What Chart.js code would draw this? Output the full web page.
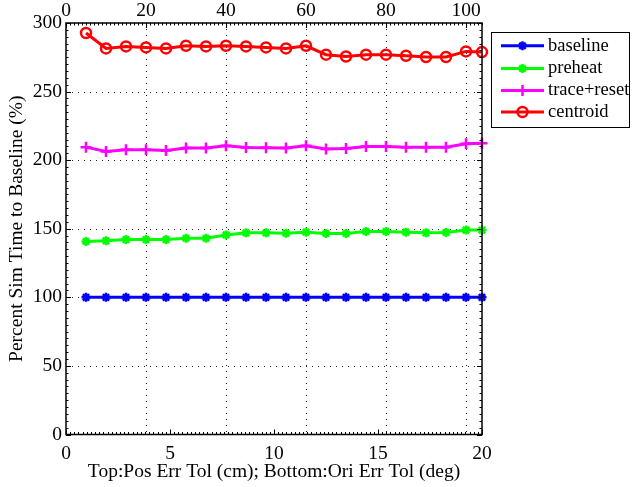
<!DOCTYPE html>
<html>
<head>
<meta charset="utf-8">
<title>Percent Sim Time to Baseline</title>
<script src="https://cdn.jsdelivr.net/npm/chart.js@4.4.1/dist/chart.umd.min.js"></script>
<style>
  html, body { margin: 0; padding: 0; background: #fff; }
</style>
</head>
<body>
<canvas id="chart" width="639" height="487"></canvas>
<script>
// x positions on the top axis (Pos Err Tol, cm)
const xPos = [5, 10, 15, 20, 25, 30, 35, 40, 45, 50, 55, 60, 65, 70, 75, 80, 85, 90, 95, 100, 104];

const baseline = [100, 100, 100, 100, 100, 100, 100, 100, 100, 100, 100, 100, 100, 100, 100, 100, 100, 100, 100, 100, 100];
const preheat = [140.7, 141.2, 142.1, 142.1, 142.1, 143.1, 143.1, 145.5, 147.0, 147.0, 146.8, 147.5, 146.5, 146.5, 148.0, 148.0, 147.5, 147.0, 147.3, 149.0, 149.0];
const traceReset = [209.5, 206.3, 207.6, 207.6, 207.0, 208.8, 208.8, 210.5, 209.2, 209.0, 208.8, 210.5, 208.1, 208.5, 210.0, 210.0, 209.5, 209.5, 209.5, 211.9, 212.4];
const centroid = [292.7, 281.5, 282.9, 282.2, 281.5, 283.4, 282.9, 283.4, 282.9, 282.2, 281.5, 283.4, 276.9, 275.6, 276.9, 276.9, 276.1, 275.2, 275.2, 279.3, 278.8];

const topTicks = [0, 20, 40, 60, 80, 100];
const bottomTicks = [0, 5, 10, 15, 20];
const yTicks = [0, 50, 100, 150, 200, 250, 300];

const FONT = "'Liberation Serif', 'Times New Roman', serif";
const FSIZE = 19.5;

function series(label, values, color, style, radius) {
    return {
        label: label,
        data: values.map((v, i) => ({ x: xPos[i], y: v })),
        xAxisID: 'xTop',
        yAxisID: 'y',
        borderColor: color,
        backgroundColor: color,
        borderWidth: 3,
        pointStyle: style,
        pointRadius: radius,
        pointBorderWidth: 2.5,
        pointBorderColor: color,
        pointBackgroundColor: style === 'circle' ? 'rgba(0,0,0,0)' : color,
        tension: 0,
        clip: false
    };
}

// dotted grid, box, inside ticks and MATLAB style legend
const framePlugin = {
    id: 'frame',
    beforeDatasetsDraw(chart) {
        const ctx = chart.ctx;
        const a = chart.chartArea;
        const sy = chart.scales.y, sTop = chart.scales.xTop;
        ctx.save();
        ctx.strokeStyle = '#222';
        ctx.lineWidth = 1;
        ctx.setLineDash([1, 5]);
        ctx.beginPath();
        yTicks.forEach(v => {
            if (v === 0 || v === 300) return;
            const p = Math.round(sy.getPixelForValue(v)) + 0.5;
            ctx.moveTo(a.left, p); ctx.lineTo(a.right, p);
        });
        topTicks.forEach(v => {
            if (v === 0) return;
            const p = Math.round(sTop.getPixelForValue(v)) + 0.5;
            ctx.moveTo(p, a.top); ctx.lineTo(p, a.bottom);
        });
        ctx.stroke();
        ctx.restore();
    },
    afterDraw(chart) {
        const ctx = chart.ctx;
        const a = chart.chartArea;
        const sy = chart.scales.y, sTop = chart.scales.xTop, sBot = chart.scales.x;
        ctx.save();
        ctx.strokeStyle = '#000';
        ctx.lineWidth = 1;
        ctx.beginPath();
        // major and minor ticks, drawn inside
        for (let v = 0; v <= 300; v += 5) {
            const p = Math.round(sy.getPixelForValue(v)) + 0.5;
            const len = v % 50 === 0 ? 5 : 2.5;
            ctx.moveTo(a.left, p); ctx.lineTo(a.left + len, p);
            ctx.moveTo(a.right, p); ctx.lineTo(a.right - len, p);
        }
        for (let v = 0; v <= 104; v += 1) {
            const p = Math.round(sTop.getPixelForValue(v)) + 0.5;
            const len = topTicks.includes(v) ? 5 : 2.5;
            ctx.moveTo(p, a.top); ctx.lineTo(p, a.top + len);
        }
        for (let v = 0; v <= 20.001; v += 0.2) {
            const p = Math.round(sBot.getPixelForValue(v)) + 0.5;
            const len = Math.abs(v / 5 - Math.round(v / 5)) < 1e-6 ? 5 : 2.5;
            ctx.moveTo(p, a.bottom); ctx.lineTo(p, a.bottom - len);
        }
        ctx.stroke();
        ctx.lineWidth = 1.5;
        ctx.strokeRect(a.left, a.top, a.right - a.left, a.bottom - a.top);

        // legend
        const lx = 491, ly = 32, lw = 138, lh = 95;
        ctx.fillStyle = '#fff';
        ctx.fillRect(lx, ly, lw, lh);
        ctx.lineWidth = 1;
        ctx.strokeStyle = '#000';
        ctx.strokeRect(lx + 0.5, ly + 0.5, lw, lh);
        const rows = [45.7, 68.5, 90.5, 112];
        chart.data.datasets.forEach((ds, i) => {
            const y = rows[i];
            ctx.strokeStyle = ds.borderColor;
            ctx.fillStyle = ds.pointBackgroundColor;
            ctx.lineWidth = ds.borderWidth;
            ctx.beginPath();
            ctx.moveTo(501, y); ctx.lineTo(544, y);
            ctx.stroke();
            ctx.lineWidth = ds.pointBorderWidth;
            Chart.helpers.drawPoint(ctx, {
                pointStyle: ds.pointStyle, radius: ds.pointRadius,
                borderWidth: ds.pointBorderWidth, rotation: 0
            }, 522.5, y);
            ctx.fillStyle = '#000';
            ctx.font = '18.5px ' + FONT;
            ctx.textAlign = 'left';
            ctx.textBaseline = 'middle';
            ctx.fillText(ds.label, 548, y);
        });
        ctx.restore();
    }
};

new Chart(document.getElementById('chart'), {
    type: 'line',
    data: {
        datasets: [
            series('baseline', baseline, '#0000ff', 'star', 4.5),
            series('preheat', preheat, '#00ff00', 'star', 4.5),
            series('trace+reset', traceReset, '#ff00ff', 'cross', 5.5),
            series('centroid', centroid, '#ff0000', 'circle', 5)
        ]
    },
    options: {
        responsive: false,
        animation: false,
        layout: { padding: { left: 0, right: 157, top: 0, bottom: 0 } },
        plugins: {
            legend: { display: false },
            tooltip: { enabled: false }
        },
        scales: {
            xTop: {
                type: 'linear',
                position: 'top',
                min: 0,
                max: 104,
                afterBuildTicks: s => { s.ticks = topTicks.map(v => ({ value: v })); },
                afterFit: s => { s.height = 23; },
                grid: { display: false, drawTicks: false },
                border: { display: false },
                ticks: { color: '#000', font: { family: FONT, size: FSIZE }, padding: 0, maxRotation: 0 }
            },
            x: {
                type: 'linear',
                position: 'bottom',
                min: 0,
                max: 20,
                afterBuildTicks: s => { s.ticks = bottomTicks.map(v => ({ value: v })); },
                afterFit: s => { s.height = 52.5; },
                grid: { display: false, drawTicks: false },
                border: { display: false },
                ticks: { color: '#000', font: { family: FONT, size: FSIZE }, padding: 8, maxRotation: 0 },
                title: {
                    display: true,
                    text: 'Top:Pos Err Tol (cm); Bottom:Ori Err Tol (deg)',
                    color: '#000',
                    font: { family: FONT, size: FSIZE },
                    padding: { top: 0, bottom: 3 }
                }
            },
            y: {
                type: 'linear',
                position: 'left',
                min: 0,
                max: 300,
                afterBuildTicks: s => { s.ticks = yTicks.map(v => ({ value: v })); },
                afterFit: s => { s.width = 66; },
                grid: { display: false, drawTicks: false },
                border: { display: false },
                ticks: { color: '#000', font: { family: FONT, size: FSIZE }, padding: 4 },
                title: {
                    display: true,
                    text: 'Percent Sim Time to Baseline (%)',
                    color: '#000',
                    font: { family: FONT, size: FSIZE },
                    padding: { top: 5, bottom: 4 }
                }
            }
        }
    },
    plugins: [framePlugin]
});
</script>
</body>
</html>
